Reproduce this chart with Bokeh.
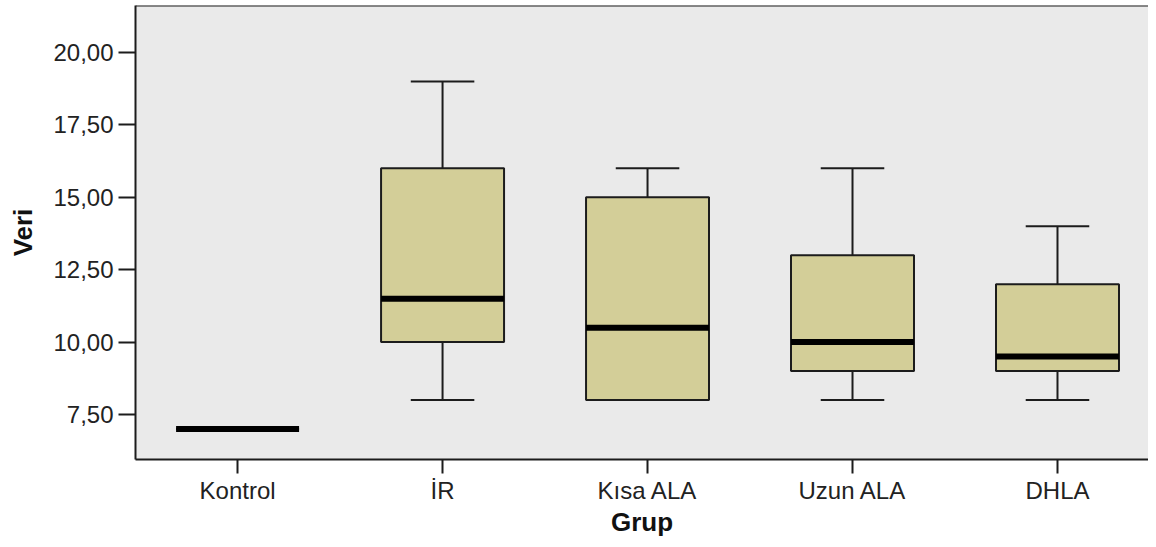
from bokeh.plotting import figure
from bokeh.models import Range1d, FixedTicker, Span
from bokeh.embed import file_html
from bokeh.resources import INLINE

# ---- data ----
groups = ["Kontrol", "İR", "Kısa ALA", "Uzun ALA", "DHLA"]
mins = [7.0, 8.0, 8.0, 8.0, 8.0]
q1s = [7.0, 10.0, 8.0, 9.0, 9.0]
medians = [7.0, 11.5, 10.5, 10.0, 9.5]
q3s = [7.0, 16.0, 15.0, 13.0, 12.0]
maxs = [7.0, 19.0, 16.0, 16.0, 14.0]
y_ticks = [7.5, 10.0, 12.5, 15.0, 17.5, 20.0]
y_tick_labels = ["7,50", "10,00", "12,50", "15,00", "17,50", "20,00"]
x_title = "Grup"
y_title = "Veri"

xs = list(range(len(groups)))
box_w = 0.6
cap_w = 0.31

FONT = "Liberation Sans"
EDGE = "#1c1c1c"
Y_TOP = 21.62
Y_BOT = 5.948

p = figure(width=1148, height=539, output_backend="svg", toolbar_location=None,
           x_range=Range1d(-0.498, 4.444), y_range=Range1d(Y_BOT, Y_TOP),
           min_border_left=135, min_border_top=5, min_border_right=0, min_border_bottom=80)
p.background_fill_color = "#EAEAEA"
p.border_fill_color = "white"
p.outline_line_color = None
p.xgrid.visible = False
p.ygrid.visible = False

# whiskers
p.segment(x0=xs, x1=xs, y0=q3s, y1=maxs, line_color=EDGE, line_width=2)
p.segment(x0=xs, x1=xs, y0=q1s, y1=mins, line_color=EDGE, line_width=2)
# caps
caps_x0 = [x - cap_w / 2 for x in xs]
caps_x1 = [x + cap_w / 2 for x in xs]
p.segment(x0=caps_x0, x1=caps_x1, y0=maxs, y1=maxs, line_color=EDGE, line_width=2)
p.segment(x0=caps_x0, x1=caps_x1, y0=mins, y1=mins, line_color=EDGE, line_width=2)
# boxes
p.vbar(x=xs, width=box_w, bottom=q1s, top=q3s, fill_color="#D3CE98",
       line_color=EDGE, line_width=2)
# medians
p.segment(x0=[x - box_w / 2 for x in xs], x1=[x + box_w / 2 for x in xs],
          y0=medians, y1=medians, line_color="black", line_width=6)

# top border
p.add_layout(Span(location=Y_TOP, dimension="width", line_color=EDGE, line_width=2))

# axes
p.xaxis.ticker = FixedTicker(ticks=xs)
p.xaxis.major_label_overrides = {i: g for i, g in enumerate(groups)}
p.yaxis.ticker = FixedTicker(ticks=y_ticks)
p.yaxis.major_label_overrides = {t: l for t, l in zip(y_ticks, y_tick_labels)}

for ax in (p.xaxis, p.yaxis):
    ax.axis_line_color = EDGE
    ax.axis_line_width = 2
    ax.major_tick_line_color = EDGE
    ax.major_tick_line_width = 2
    ax.major_tick_in = 0
    ax.minor_tick_line_color = None
    ax.major_label_text_font = FONT
    ax.major_label_text_font_size = "24px"
    ax.major_label_text_color = "#222222"
    ax.axis_label_text_font = FONT
    ax.axis_label_text_font_size = "26px"
    ax.axis_label_text_font_style = "bold"
    ax.axis_label_text_color = "#111111"

p.xaxis.major_tick_out = 14
p.yaxis.major_tick_out = 17
p.xaxis.major_label_standoff = 3
p.yaxis.major_label_standoff = 5
p.xaxis.axis_label = x_title
p.yaxis.axis_label = y_title
p.xaxis.axis_label_standoff = 0
p.yaxis.axis_label_standoff = 12

open("out.html", "w").write(file_html(p, INLINE))
